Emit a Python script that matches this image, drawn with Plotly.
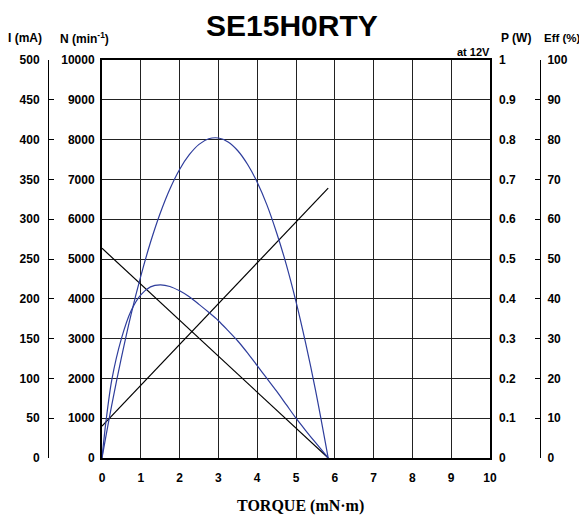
import plotly.graph_objects as go

# ── data ────────────────────────────────────────────────────────────────────
torque_ends = [0, 5.83]                 # mN·m
speed_ends = [5270, 0]                  # min-1
current_ends = [40, 339]                # mA

torque_pw = [0, 0.25, 0.5, 0.75, 1.0, 1.25, 1.5, 1.75, 2.0, 2.25, 2.5, 2.75, 3.0,
             3.25, 3.5, 3.75, 4.0, 4.25, 4.5, 4.75, 5.0, 5.25, 5.5, 5.83]
power = [0, 0.132, 0.252, 0.361, 0.457, 0.542, 0.615, 0.676, 0.725, 0.762, 0.788,
         0.802, 0.804, 0.794, 0.772, 0.738, 0.693, 0.636, 0.566, 0.486, 0.393,
         0.288, 0.172, 0]

torque_eff = [0, 0.1, 0.25, 0.5, 0.75, 1.0, 1.25, 1.5, 1.75, 2.0, 2.25, 2.5, 2.75,
              3.0, 3.25, 3.5, 3.75, 4.0, 4.25, 4.5, 4.75, 5.0, 5.25, 5.5, 5.83]
efficiency = [0, 9, 19.5, 30, 37, 41, 43, 43.5, 43.1, 42.0, 40.5, 38.6, 36.6,
              34.5, 32.0, 29.4, 26.4, 23.2, 20.0, 16.8, 13.4, 10.0, 6.9, 3.9, 0]

x_ticks = list(range(0, 11))
n_ticks = list(range(0, 10001, 1000))
n_labels = [str(v) for v in n_ticks]
i_ticks = list(range(0, 501, 50))
p_ticks = [0, 0.1, 0.2, 0.3, 0.4, 0.5, 0.6, 0.7, 0.8, 0.9, 1]
p_labels = ["0", "0.1", "0.2", "0.3", "0.4", "0.5", "0.6", "0.7", "0.8", "0.9", "1"]
e_ticks = list(range(0, 101, 10))

# page body adds an 8px margin, so the figure is drawn 8px smaller and shifted
OFF = 8
W, H = 587 - OFF, 515 - OFF
L, R, T, B = 102, 490, 60, 458      # plot box in window pixels
BLUE = "#2E3D9C"
TICKFONT = dict(family="Liberation Sans, Arial", size=12, color="black", weight="bold")


def px(x):
    return (x - OFF) / W


def py(y):
    return (B - y) / (B - T)


fig = go.Figure()

fig.add_trace(go.Scatter(x=torque_ends, y=speed_ends, mode="lines",
                         line=dict(color="black", width=1.2), yaxis="y"))
fig.add_trace(go.Scatter(x=torque_ends, y=current_ends, mode="lines",
                         line=dict(color="black", width=1.2), yaxis="y2"))
fig.add_trace(go.Scatter(x=torque_pw, y=power, mode="lines", line_shape="spline",
                         line=dict(color=BLUE, width=1.2), yaxis="y3"))
fig.add_trace(go.Scatter(x=torque_eff, y=efficiency, mode="lines", line_shape="spline",
                         line=dict(color=BLUE, width=1.2, smoothing=0.8), yaxis="y4"))

fig.update_layout(
    width=W, height=H,
    margin=dict(l=0, r=0, t=T - OFF, b=H - (B - OFF), autoexpand=False),
    paper_bgcolor="white", plot_bgcolor="white",
    showlegend=False,
    xaxis=dict(domain=[px(L), px(R)], range=[0, 10], tickvals=x_ticks,
               showgrid=True, gridcolor="#222222", gridwidth=1,
               showline=True, linecolor="black", linewidth=2, mirror=True,
               zeroline=False, ticks="", ticklabelstandoff=8, tickfont=TICKFONT),
    yaxis=dict(range=[0, 10000], tickvals=n_ticks, ticktext=n_labels,
               showgrid=True, gridcolor="#222222", gridwidth=1,
               showline=True, linecolor="black", linewidth=2, mirror=True,
               zeroline=False, ticks="", ticklabelstandoff=3, tickfont=TICKFONT),
    yaxis2=dict(range=[0, 500], tickvals=i_ticks, overlaying="y", side="left",
                anchor="free", position=px(48), showgrid=False, zeroline=False,
                showline=True, linecolor="black", linewidth=1,
                ticks="inside", ticklen=5, tickcolor="black",
                ticklabelstandoff=6, tickfont=TICKFONT),
    yaxis3=dict(range=[0, 1], tickvals=p_ticks, ticktext=p_labels, overlaying="y",
                side="right", anchor="x", showgrid=False, zeroline=False,
                showline=False, ticks="", ticklabelstandoff=8, tickfont=TICKFONT),
    yaxis4=dict(range=[0, 100], tickvals=e_ticks, overlaying="y", side="right",
                anchor="free", position=px(540), showgrid=False, zeroline=False,
                showline=True, linecolor="black", linewidth=1,
                ticks="inside", ticklen=5, tickcolor="black",
                ticklabelstandoff=4, tickfont=TICKFONT),
)

LABEL = dict(family="Liberation Sans, Arial", size=12, color="black", weight="bold")
notes = [
    ("I (mA)", 25, 38, LABEL),
    ("N (min<sup>-1</sup>)", 84, 38, LABEL),
    ("P (W)", 516, 38, LABEL),
    ("Eff (%)", 562, 38, dict(LABEL, size=11.5)),
    ("at 12V", 473, 52, dict(LABEL, size=11)),
    ("SE15H0RTY", 292, 25, dict(LABEL, size=30)),
    ("TORQUE (mN·m)", 301, 506, dict(family="Liberation Serif", size=16,
                                      color="black", weight="bold")),
]
for text, x, y, font in notes:
    fig.add_annotation(text=text, x=px(x), y=py(y), xref="paper", yref="paper",
                       showarrow=False, font=font, xanchor="center", yanchor="middle")

fig.write_html("out.html")
